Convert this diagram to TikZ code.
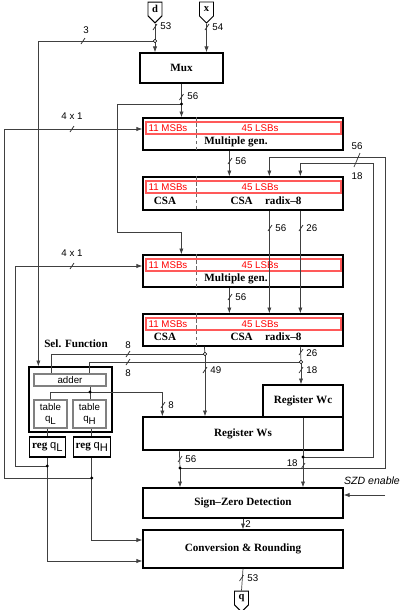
\documentclass[tikz,border=0pt]{standalone}
\usepackage{fontspec}
\setmainfont{Liberation Serif}
\setsansfont{Liberation Sans}
\usetikzlibrary{arrows.meta,shapes.symbols}

\begin{document}
\begin{tikzpicture}[x=0.03cm, y=-0.03cm, >={Latex[length=5pt,width=3.6pt]},
		block/.style={draw, line width=1.1pt, inner sep=0pt, font=\fontsize{9.5}{11}\selectfont\bfseries},
		subbox/.style={draw=black!50, line width=1pt, inner sep=0pt, align=center, font=\sffamily\fontsize{8.3}{9}\selectfont},
		bits/.style={draw=red!65, line width=0.9pt, minimum width=5.85cm, minimum height=0.36cm, inner sep=0pt},
		redtxt/.style={text=red, font=\sffamily\fontsize{8.3}{9}\selectfont, inner sep=0pt},
		boxtxt/.style={font=\fontsize{9.5}{11}\selectfont\bfseries, inner sep=0pt},
		lbl/.style={font=\sffamily\fontsize{8.3}{9}\selectfont, inner sep=1pt},
		port/.style={draw, signal, signal to=south, line width=0.8pt, minimum width=0.42cm, minimum height=0.5cm, inner sep=0pt, font=\fontsize{9}{10}\selectfont\bfseries},
		wire/.style={draw=black!75, line width=0.6pt},
		divider/.style={black!60, densely dashed, line width=0.5pt},
		busmark/.pic={\draw[black!80, line width=0.6pt] (-2,3) -- (2,-3);}
	]
	\useasboundingbox (0,0) rectangle (405,610);

	% inputs and mux
	\node[port] (d) at (155,9) {d};
	\node[port] (x) at (206.5,9) {x};
	\node[block, minimum width=2.49cm, minimum height=0.9cm] (mux) at (181.5,68) {Mux};

	% multiple generators and CSAs
	\node[block, minimum width=6cm, minimum height=0.96cm] (mg1) at (243,134) {};
	\node[bits] (mg1b) at (243.5,128) {};
	\draw[divider] ([xshift=1.62cm]mg1.north west) -- ([xshift=1.62cm]mg1.south west);
	\node[redtxt] (mg1h) at (168,128) {11 MSBs};
	\node[redtxt] (mg1l) at (260,128) {45 LSBs};
	\node[boxtxt] (mg1t) at (236,142) {Multiple gen.};

	\node[block, minimum width=6cm, minimum height=0.99cm] (csa1) at (243,193.5) {};
	\node[bits] (csa1b) at (243.5,187) {};
	\draw[divider] ([xshift=1.62cm]csa1.north west) -- ([xshift=1.62cm]csa1.south west);
	\node[redtxt] (csa1h) at (168,187) {11 MSBs};
	\node[redtxt] (csa1l) at (260,187) {45 LSBs};
	\node[boxtxt] (csa1a) at (165,200.5) {CSA};
	\node[boxtxt] (csa1t) at (266,200.5) {CSA\hspace{1.1em}radix--8};

	\node[block, minimum width=6cm, minimum height=0.96cm] (mg2) at (243,271) {};
	\node[bits] (mg2b) at (243.5,265) {};
	\draw[divider] ([xshift=1.62cm]mg2.north west) -- ([xshift=1.62cm]mg2.south west);
	\node[redtxt] (mg2h) at (168,265) {11 MSBs};
	\node[redtxt] (mg2l) at (260,265) {45 LSBs};
	\node[boxtxt] (mg2t) at (236,279) {Multiple gen.};

	\node[block, minimum width=6cm, minimum height=0.96cm] (csa2) at (243,330) {};
	\node[bits] (csa2b) at (243.5,324) {};
	\draw[divider] ([xshift=1.62cm]csa2.north west) -- ([xshift=1.62cm]csa2.south west);
	\node[redtxt] (csa2h) at (168,324) {11 MSBs};
	\node[redtxt] (csa2l) at (260,324) {45 LSBs};
	\node[boxtxt] (csa2a) at (165,337) {CSA};
	\node[boxtxt] (csa2t) at (266,337) {CSA\hspace{1.1em}radix--8};

	% selection function
	\node[boxtxt] (seltxt) at (76,344) {Sel. Function};
	\node[block, minimum width=2.49cm, minimum height=1.95cm] (sel) at (70.5,399.5) {};
	\node[subbox, minimum width=2.16cm, minimum height=0.36cm] (adder) at (70,380) {adder};
	\node[subbox, minimum width=0.99cm, minimum height=0.84cm] (tabL) at (50.5,414) {table\\q\raisebox{-0.5ex}{L}};
	\node[subbox, minimum width=0.99cm, minimum height=0.84cm] (tabH) at (89.5,414) {table\\q\raisebox{-0.5ex}{H}};
	\node[block, minimum width=1.08cm, minimum height=0.6cm] (regL) at (47.3,447) {reg \textsf{\mdseries q\raisebox{-0.5ex}{L}}};
	\node[block, minimum width=1.11cm, minimum height=0.6cm] (regH) at (91.7,447) {reg \textsf{\mdseries q\raisebox{-0.5ex}{H}}};

	% registers, sign detection, conversion
	\node[block, minimum width=2.4cm, minimum height=0.96cm] (wc) at (303,401) {Register Wc};
	\node[block, minimum width=6cm, minimum height=0.99cm] (ws) at (243,433.5) {Register Ws};
	\node[block, minimum width=6cm, minimum height=0.9cm] (szd) at (243,503) {Sign--Zero Detection};
	\node[block, minimum width=6cm, minimum height=1.14cm] (conv) at (243,549) {Conversion \& Rounding};
	\node[port] (q) at (241.5,598) {q};
	\node[lbl, font=\sffamily\itshape\fontsize{9}{10}\selectfont] (szden) at (372,481) {SZD enable};

	% junctions
	\coordinate (j3) at (155,41);
	\coordinate (jm) at (181.5,104);
	\coordinate (js) at (205,354);
	\coordinate (jc) at (301,362);
	\coordinate (ja) at (90,392);
	\coordinate (jws) at (180,468);
	\coordinate (jwc) at (303,457);
	\coordinate (jl) at (47.3,466);
	\coordinate (jh) at (91.7,478);
	\coordinate (en) at (385,495);

	% connections
	\draw[wire] (d.south) -- (j3);
	\draw[wire,->] (j3) -- (j3 |- mux.north);
	\draw[wire,->] (x.south) -- (x.south |- mux.north);
	\draw[wire,->] (j3) -| ([xshift=0.3cm]sel.north west);
	\draw[wire] (mux.south) -- (jm);
	\draw[wire,->] (jm) -- (jm |- mg1.north);
	\draw[wire,->] (jm) -| (117,232) -| ([xshift=1.17cm]mg2.north west);
	\draw[wire,->] ([xshift=2.61cm]mg1.south west) -- ([xshift=2.61cm]csa1.north west);
	\draw[wire,->] ([xshift=2.61cm]mg2.south west) -- ([xshift=2.61cm]csa2.north west);
	\draw[wire,->] ([xshift=3.81cm]csa1.south west) -- ([xshift=3.81cm]csa2.north west);
	\draw[wire,->] ([xshift=4.74cm]csa1.south west) -- ([xshift=4.74cm]csa2.north west);

	\draw[wire] ([xshift=1.86cm]csa2.south west) -- (js);
	\draw[wire,->] (js) -- (js |- ws.north);
	\draw[wire] (js) -| ([xshift=0.54cm]adder.north west);
	\draw[wire] ([xshift=4.74cm]csa2.south west) -- (jc);
	\draw[wire,->] (jc) -- (jc |- wc.north);
	\draw[wire] (jc) -| ([xshift=1.68cm]adder.north west);

	\draw[wire] (ja |- adder.south) -- (ja);
	\draw[wire] (ja) -- (ja |- tabH.north);
	\draw[wire] (ja) -| (tabL.north);
	\draw[wire,->] (ja) -| ([xshift=0.6cm]ws.north west);
	\draw[wire] (tabL.south -| regL.north) -- (regL.north);
	\draw[wire] (tabH.south -| regH.north) -- (regH.north);

	\draw[wire] (regL.south) -- (jl);
	\draw[wire,->] (jl) |- ([yshift=-0.36cm]conv.west);
	\draw[wire] (regH.south) -- (jh);
	\draw[wire,->] (jh) |- ([yshift=0.27cm]conv.west);
	\draw[wire,->] (jh) -| (4,129) -- ([yshift=0.15cm]mg1.west);
	\draw[wire,->] (jl) -| (15,266) -- ([yshift=0.15cm]mg2.west);

	\draw[wire] ([xshift=1.11cm]ws.south west) -- (jws);
	\draw[wire,->] (jws) -- (jws |- szd.north);
	\draw[wire] (wc.south) -- (jwc);
	\draw[wire,->] (jwc) -- (jwc |- szd.north);
	\draw[wire,->] (jws) -| (385,157) -| ([xshift=3.81cm]csa1.north west);
	\draw[wire,->] (jwc) -| (373,163) -| ([xshift=4.74cm]csa1.north west);

	\draw[wire,->] (en) -- (en -| szd.east);
	\draw[wire,->] (szd.south) -- (conv.north);
	\draw[wire] (conv.south) -- (q.north);

	% junction dots
	\fill (jm) circle (1.4pt);
	\fill (ja) circle (1.4pt);
	\fill (jws) circle (1.4pt);
	\fill (jwc) circle (1.4pt);
	\fill (jl) circle (1.4pt);
	\fill (jh) circle (1.4pt);
	\draw[fill=white, line width=0.5pt] (j3) circle (1.5pt);
	\draw[fill=white, line width=0.5pt] (js) circle (1.5pt);
	\draw[fill=white, line width=0.5pt] (jc) circle (1.5pt);

	% bus widths
	\pic at (155,27) {busmark};
	\node[lbl, anchor=west] (w53) at (159,26) {53};
	\pic at (207,27) {busmark};
	\node[lbl, anchor=west] (w54) at (211,27) {54};
	\pic at (83,41) {busmark};
	\node[lbl] (w3) at (86,30) {3};
	\pic at (181.5,97) {busmark};
	\node[lbl, anchor=west] (w56a) at (186,96) {56};
	\pic at (72,129) {busmark};
	\node[lbl] (w41a) at (72,116) {4 x 1};
	\pic at (230,161) {busmark};
	\node[lbl, anchor=west] (w56b) at (234,161) {56};
	\draw[black!80, line width=0.6pt] (354,167) -- (360,153);
	\node[lbl] (w56c) at (357,146) {56};
	\node[lbl] (w18a) at (357,176) {18};
	\pic at (270,228) {busmark};
	\node[lbl, anchor=west] (w56d) at (274,228) {56};
	\pic at (301,228) {busmark};
	\node[lbl, anchor=west] (w26a) at (305,228) {26};
	\pic at (72,266) {busmark};
	\node[lbl] (w41b) at (72,253) {4 x 1};
	\pic at (230,297) {busmark};
	\node[lbl, anchor=west] (w56e) at (234,297) {56};
	\pic at (128,354) {busmark};
	\node[lbl] (w8a) at (128,345) {8};
	\pic at (128,362) {busmark};
	\node[lbl] (w8b) at (128,373) {8};
	\pic at (301,352) {busmark};
	\node[lbl, anchor=west] (w26b) at (305,353) {26};
	\pic at (301,370) {busmark};
	\node[lbl, anchor=west] (w18b) at (305,370) {18};
	\pic at (205,370) {busmark};
	\node[lbl, anchor=west] (w49) at (209,370) {49};
	\pic at (163,405) {busmark};
	\node[lbl, anchor=west] (w8c) at (167,405) {8};
	\pic at (180,459) {busmark};
	\node[lbl, anchor=west] (w56f) at (184,459) {56};
	\pic at (303,466) {busmark};
	\node[lbl, anchor=east] (w18c) at (299,463) {18};
	\node[lbl, anchor=west] (w2) at (244,524) {2};
	\pic at (241.5,578) {busmark};
	\node[lbl, anchor=west] (w53b) at (246,578) {53};
\end{tikzpicture}
\end{document}
